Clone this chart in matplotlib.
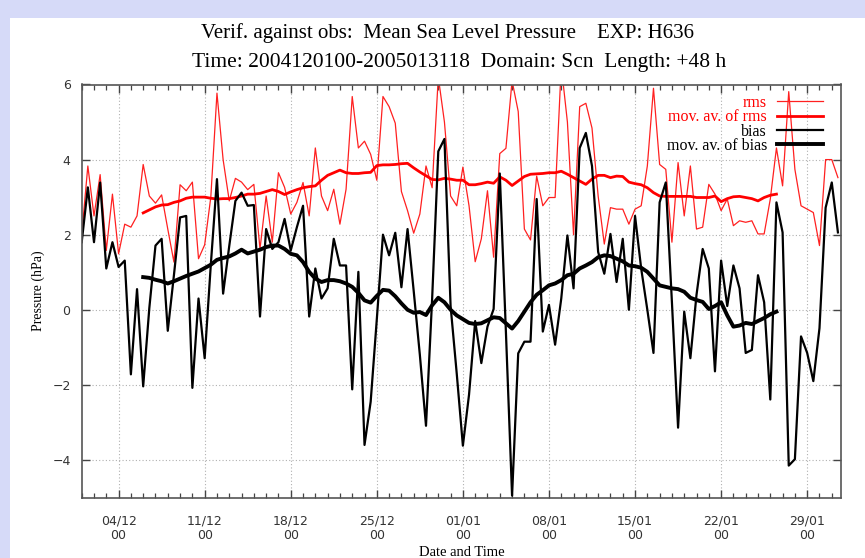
"""
plot.py
MSLP verification time series (rms / bias) against observations
"""

import pandas as pd
import matplotlib
matplotlib.use('Agg')
import matplotlib.pyplot as plt
import matplotlib.dates as mdates
from matplotlib.patches import Rectangle

# Data - 12 hourly values starting 2004-12-01 00
start = '2004-12-01 00:00'

rms = [2.0, 3.83, 2.5, 3.6, 1.58, 3.08, 1.49, 2.28, 2.2, 2.5,
       3.87, 3.03, 2.84, 3.06, 2.15, 1.27, 3.33, 3.17, 3.4, 1.36,
       1.73, 3.0, 5.77, 4.0, 2.9, 3.5, 3.4, 3.2, 3.34, 1.62,
       3.03, 1.8, 3.65, 3.26, 2.55, 2.86, 3.39, 2.5, 4.31, 3.03,
       2.64, 3.21, 2.28, 3.21, 5.68, 4.31, 4.49, 4.14, 3.45, 5.68,
       5.41, 4.97, 3.15, 2.64, 2.04, 2.55, 3.83, 3.25, 6.2, 5.0,
       3.03, 2.77, 3.8, 2.77, 1.28, 1.89, 3.17, 1.4, 4.16, 4.3,
       6.1, 5.28, 2.15, 1.86, 3.56, 2.77, 2.99, 2.99, 6.5, 5.0,
       2.0, 5.41, 5.5, 4.84, 3.03, 1.75, 2.72, 2.68, 2.68, 2.28,
       2.68, 2.77, 3.83, 5.9, 3.87, 3.74, 1.8, 3.92, 2.5, 3.83,
       2.15, 2.2, 3.34, 3.08, 2.64, 2.95, 2.24, 2.37, 2.33, 2.37,
       2.02, 2.02, 2.95, 4.31, 3.3, 5.81, 3.74, 2.77, 2.68, 2.59,
       1.71, 4.0, 4.0, 3.52]

bias = [1.8, 3.26, 1.8, 3.39, 1.1, 1.8, 1.14, 1.31, -1.72, 0.55,
        -2.04, 0.05, 1.71, 1.89, -0.56, 0.92, 2.46, 2.5, -2.08, 0.3,
        -1.29, 1.2, 3.48, 0.43, 1.7, 2.9, 3.12, 2.77, 2.79, -0.18,
        2.15, 1.62, 1.8, 2.42, 1.58, 2.2, 2.77, -0.18, 1.1, 0.3,
        0.57, 1.89, 1.18, 1.18, -2.12, 1.01, -3.6, -2.45, -0.25, 2.0,
        1.45, 2.05, 0.6, 2.15, 0.5, -1.2, -3.09, 0.3, 4.22, 4.55,
        0.1, -1.7, -3.62, -2.26, -0.3, -1.42, -0.45, 0.02, 3.63, -0.6,
        -4.95, -1.16, -0.85, -0.85, 2.95, -0.58, 0.13, -0.93, 0.3, 1.98,
        0.57, 4.31, 4.71, 3.83, 1.54, 0.96, 2.02, 0.74, 1.89, 0.0,
        2.5, 1.1, 0.0, -1.15, 2.86, 3.39, 0.2, -3.14, -0.05, -1.29,
        0.4, 1.62, 1.1, -1.64, 1.31, 0.1, 1.18, 0.57, -1.15, -1.07,
        0.92, 0.2, -2.39, 2.86, 2.06, -4.15, -3.98, -0.71, -1.15, -1.9,
        -0.49, 2.72, 3.39, 2.06]

# Moving averages - 12 hourly starting 2004-12-06 00
ma_start = '2004-12-06 00:00'

rms_ma = [2.58, 2.66, 2.74, 2.79, 2.8, 2.86, 2.9, 2.97, 3.0, 3.0,
          3.0, 2.97, 2.95, 2.96, 2.96, 2.99, 3.03, 3.08, 3.08, 3.1,
          3.15, 3.2, 3.15, 3.07, 3.14, 3.2, 3.25, 3.28, 3.3, 3.45,
          3.58, 3.65, 3.72, 3.65, 3.63, 3.63, 3.65, 3.66, 3.84, 3.86,
          3.86, 3.87, 3.89, 3.9, 3.78, 3.67, 3.57, 3.47, 3.46, 3.5,
          3.48, 3.45, 3.45, 3.33, 3.33, 3.36, 3.4, 3.37, 3.54, 3.45,
          3.31, 3.43, 3.55, 3.61, 3.62, 3.63, 3.65, 3.65, 3.69, 3.61,
          3.52, 3.43, 3.34, 3.48, 3.58, 3.58, 3.52, 3.56, 3.55, 3.4,
          3.36, 3.33, 3.25, 3.12, 3.03, 3.02, 3.02, 3.02, 3.02, 3.02,
          2.99, 2.99, 2.99, 3.03, 2.88, 2.96, 3.01, 3.02, 2.99, 2.96,
          2.9, 2.99, 3.05, 3.08]

bias_ma = [0.87, 0.85, 0.8, 0.76, 0.7, 0.76, 0.83, 0.9, 0.96, 1.02,
           1.11, 1.2, 1.33, 1.38, 1.42, 1.5, 1.6, 1.5, 1.55, 1.6,
           1.67, 1.71, 1.71, 1.62, 1.49, 1.45, 1.27, 1.01, 0.83, 0.74,
           0.79, 0.79, 0.76, 0.7, 0.61, 0.45, 0.25, 0.19, 0.37, 0.53,
           0.51, 0.36, 0.17, 0.0, -0.08, -0.06, -0.14, 0.12, 0.32, 0.2,
           0.0, -0.15, -0.25, -0.35, -0.38, -0.36, -0.28, -0.2, -0.22, -0.36,
           -0.5, -0.3, -0.05, 0.2, 0.4, 0.52, 0.65, 0.7, 0.79, 0.92,
           0.96, 1.1, 1.18, 1.27, 1.4, 1.45, 1.43, 1.36, 1.29, 1.18,
           1.16, 1.12, 1.01, 0.83, 0.65, 0.61, 0.57, 0.55, 0.48, 0.32,
           0.26, 0.21, 0.02, 0.1, 0.2, -0.15, -0.45, -0.42, -0.35, -0.38,
           -0.3, -0.22, -0.12, -0.05]

times = pd.date_range(start, periods=len(rms), freq='12h')
ma_times = pd.date_range(ma_start, periods=len(rms_ma), freq='12h')

serif = 'Liberation Serif'
lavender = '#d6daf8'

fig = plt.figure(figsize=(8.65, 5.58), dpi=100, facecolor=lavender)
# White panel inside the lavender frame
fig.patches.append(Rectangle((10/865, 0), 1, 1 - 18/558, transform=fig.transFigure,
                             facecolor='white', edgecolor='none', zorder=-10))

ax = fig.add_axes([81.7/865, 1 - 497.5/558, (841 - 81.7)/865, (497.5 - 84.5)/558])

ax.plot(times, rms, color='#ff2020', lw=0.9, label='rms')
ax.plot(ma_times, rms_ma, color='#ff0000', lw=2.0, label='mov. av. of rms')
ax.plot(times, bias, color='black', lw=1.6, label='bias')
ax.plot(ma_times, bias_ma, color='black', lw=2.8, label='mov. av. of bias')

ax.set_xlim(pd.Timestamp('2004-12-01 00:00'), pd.Timestamp('2005-01-31 18:00'))
ax.set_ylim(-5, 6)
ax.set_yticks([-4, -2, 0, 2, 4, 6])

ax.xaxis.set_major_locator(mdates.WeekdayLocator(byweekday=mdates.SA))
ax.xaxis.set_minor_locator(mdates.DayLocator())
ax.xaxis.set_major_formatter(mdates.DateFormatter('%d/%m\n%H'))

ax.tick_params(axis='both', which='both', direction='in', top=True, right=True,
               colors='#444444', labelcolor='#333333', labelsize=9)
ax.tick_params(axis='both', which='major', length=6, width=1)
ax.tick_params(axis='x', which='minor', length=3.5, width=0.9)
ax.tick_params(axis='x', which='major', pad=12)
ax.tick_params(axis='y', which='major', pad=8)

for s in ax.spines.values():
    s.set_color('#555555')
    s.set_linewidth(1.2)

ax.grid(True, which='major', linestyle=(0, (1, 2)), color='#b0b0b0', lw=0.8)

ax.set_ylabel('Pressure (hPa)', family=serif, fontsize=10, labelpad=5)
ax.set_xlabel('Date and Time', family=serif, fontsize=10.5, labelpad=3)

fig.text(0.517, 1 - 33/558, 'Verif. against obs:  Mean Sea Level Pressure    EXP: H636',
         ha='center', va='center', family=serif, fontsize=15)
fig.text(0.531, 1 - 62/558, 'Time: 2004120100-2005013118  Domain: Scn  Length: +48 h',
         ha='center', va='center', family=serif, fontsize=15.5)

leg = ax.legend(loc='upper right', bbox_to_anchor=(0.995, 1.01), frameon=False,
                markerfirst=False, handlelength=2.9, labelspacing=-0.1,
                handletextpad=0.6, borderpad=0.4,
                prop={'family': serif, 'size': 11.5})
for txt, col in zip(leg.get_texts(), ['red', 'red', 'black', 'black']):
    txt.set_color(col)

plt.savefig('out.png', dpi=100, facecolor=fig.get_facecolor())
